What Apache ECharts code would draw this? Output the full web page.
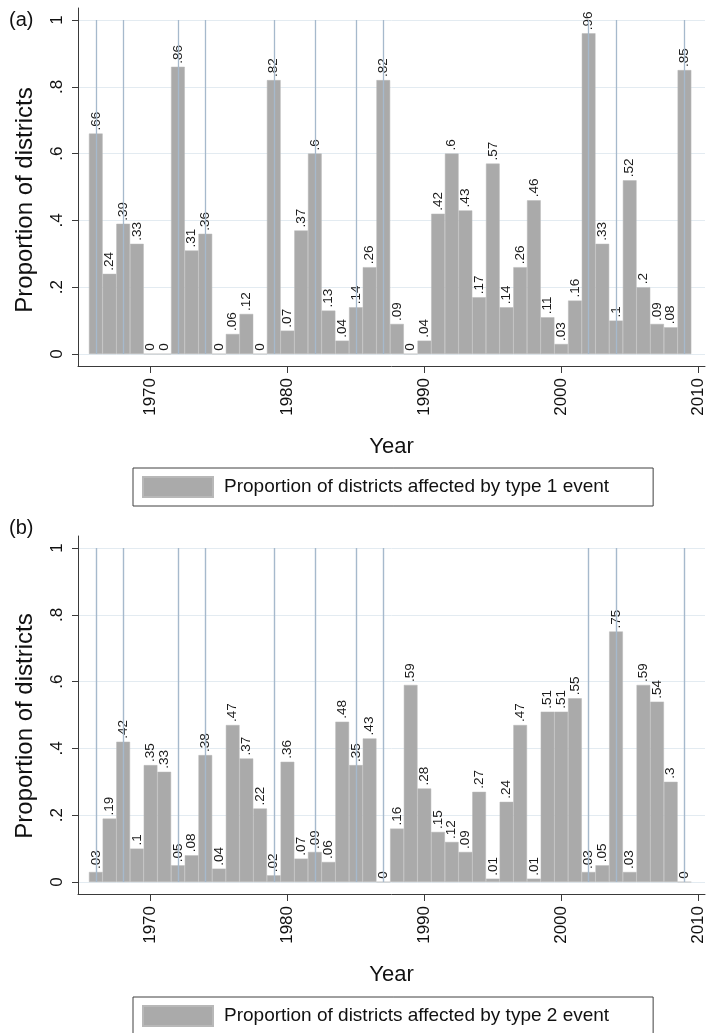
<!DOCTYPE html>
<html>
<head>
<meta charset="utf-8">
<style>html,body{margin:0;padding:0;background:#fff;}#c{width:708px;height:1033px;}</style>
<script src="https://cdn.jsdelivr.net/npm/echarts@6/dist/echarts.min.js"></script>
</head>
<body>
<div id="c"></div>
<script>
// ---- data ----
const years = [1966,1967,1968,1969,1970,1971,1972,1973,1974,1975,1976,1977,1978,1979,1980,1981,1982,1983,1984,1985,1986,1987,1988,1989,1990,1991,1992,1993,1994,1995,1996,1997,1998,1999,2000,2001,2002,2003,2004,2005,2006,2007,2008,2009];
const type1 = [.66,.24,.39,.33,0,0,.86,.31,.36,0,.06,.12,0,.82,.07,.37,.6,.13,.04,.14,.26,.82,.09,0,.04,.42,.6,.43,.17,.57,.14,.26,.46,.11,.03,.16,.96,.33,.1,.52,.2,.09,.08,.85];
const type2 = [.03,.19,.42,.1,.35,.33,.05,.08,.38,.04,.47,.37,.22,.02,.36,.07,.09,.06,.48,.35,.43,0,.16,.59,.28,.15,.12,.09,.27,.01,.24,.47,.01,.51,.51,.55,.03,.05,.75,.03,.59,.54,.3,0];
const eventYears = [1966,1968,1972,1974,1979,1982,1985,1987,2002,2004,2009];
const xTicks = [1970,1980,1990,2000,2010];
const yTicks = [0,.2,.4,.6,.8,1];
const nameA = 'Proportion of districts affected by type 1 event';
const nameB = 'Proportion of districts affected by type 2 event';
const yTitle = 'Proportion of districts';
const xTitle = 'Year';

// ---- layout ----
const FONT = '"Liberation Sans", Arial, Helvetica, sans-serif';
const X_MIN = 1964.7, X_MAX = 2010.5;
const Y_MIN = -0.0359, Y_MAX = 1.0359;
const GRID_W = 627, GRID_H = 358;
const grids = [
  {left: 78, top: 8, width: GRID_W, height: GRID_H},
  {left: 78, top: 536, width: GRID_W, height: GRID_H}
];
const barW = GRID_W / (X_MAX - X_MIN);
const fmt = v => (v === 0 ? '0' : String(+v.toFixed(2)).replace(/^0\./, '.'));

const BAR = '#aaaaaa';
const EVENT = '#a6b9cc';
const GRIDC = '#e3ebf1';
const AX = '#3a3a3a';

function xAxis(i) {
  return {
    type: 'value', gridIndex: i, min: X_MIN, max: X_MAX,
    name: xTitle, nameLocation: 'middle', nameGap: 70,
    nameTextStyle: {fontFamily: FONT, fontSize: 22, color: '#111'},
    axisLine: {show: true, onZero: false, lineStyle: {color: AX, width: 1}},
    axisTick: {show: true, length: 7, customValues: xTicks, lineStyle: {color: AX}},
    axisLabel: {customValues: xTicks, rotate: 90, margin: 12, fontFamily: FONT, fontSize: 17, color: '#111',
                formatter: v => String(Math.round(v))},
    splitLine: {show: false}
  };
}
function yAxis(i) {
  return {
    type: 'value', gridIndex: i, min: Y_MIN, max: Y_MAX,
    axisLine: {show: true, lineStyle: {color: AX, width: 1}},
    axisTick: {show: true, length: 6, customValues: yTicks, lineStyle: {color: AX}},
    axisLabel: {customValues: yTicks, rotate: 90, margin: 12, fontFamily: FONT, fontSize: 17, color: '#111', formatter: fmt},
    splitLine: {show: true, lineStyle: {color: GRIDC, width: 1}}
  };
}
function barSeries(i, name, vals) {
  return {
    type: 'bar', name: name, xAxisIndex: i, yAxisIndex: i, z: 3,
    data: years.map((y, k) => [y, vals[k]]),
    barWidth: barW,
    itemStyle: {color: BAR, borderColor: '#b8b8b8', borderWidth: 0.5},
    label: {
      show: true, position: 'top', rotate: 90, align: 'left', verticalAlign: 'middle',
      distance: 3, fontFamily: FONT, fontSize: 13.5, color: '#1a1a1a',
      formatter: p => fmt(p.value[1])
    },
    emphasis: {disabled: true}, animation: false
  };
}
function eventSeries(i, z, opacity) {
  return {
    type: 'line', xAxisIndex: i, yAxisIndex: i, data: [], z: z, silent: true, animation: false,
    markLine: {
      symbol: 'none', silent: true, animation: false, label: {show: false},
      lineStyle: {color: EVENT, width: 1.3, type: 'solid', opacity: opacity},
      data: eventYears.map(y => [{coord: [y, 0]}, {coord: [y, 1]}])
    }
  };
}
function legend(top, name) {
  return {
    left: 133, top: top, orient: 'horizontal', data: [name], selectedMode: false,
    icon: 'rect', itemWidth: 70, itemHeight: 20,
    borderColor: '#404040', borderWidth: 1, padding: [8, 44, 8, 9],
    textStyle: {fontFamily: FONT, fontSize: 19, color: '#111', padding: [0, 0, 0, 6]}
  };
}

const chart = echarts.init(document.getElementById('c'), null, {renderer: 'canvas'});
chart.setOption({
  animation: false,
  backgroundColor: '#fff',
  title: [
    {text: '(a)', left: 4, top: 5, textStyle: {fontFamily: FONT, fontSize: 20, fontWeight: 'normal', color: '#111'}},
    {text: '(b)', left: 4, top: 513, textStyle: {fontFamily: FONT, fontSize: 20, fontWeight: 'normal', color: '#111'}}
  ],
  grid: grids,
  xAxis: [xAxis(0), xAxis(1)],
  yAxis: [yAxis(0), yAxis(1)],
  legend: [legend(468, nameA), legend(997, nameB)],
  series: [
    eventSeries(0, 2, 1),
    barSeries(0, nameA, type1),
    eventSeries(1, 2, 1),
    barSeries(1, nameB, type2),
    eventSeries(1, 4, 0.35)
  ],
  graphic: [
    {type: 'text', x: 25, y: 200, rotation: Math.PI / 2,
     style: {text: yTitle, fontFamily: FONT, fontSize: 24, fill: '#111', textAlign: 'center', textVerticalAlign: 'middle'}},
    {type: 'text', x: 25, y: 726, rotation: Math.PI / 2,
     style: {text: yTitle, fontFamily: FONT, fontSize: 24, fill: '#111', textAlign: 'center', textVerticalAlign: 'middle'}}
  ]
});
</script>
</body>
</html>
